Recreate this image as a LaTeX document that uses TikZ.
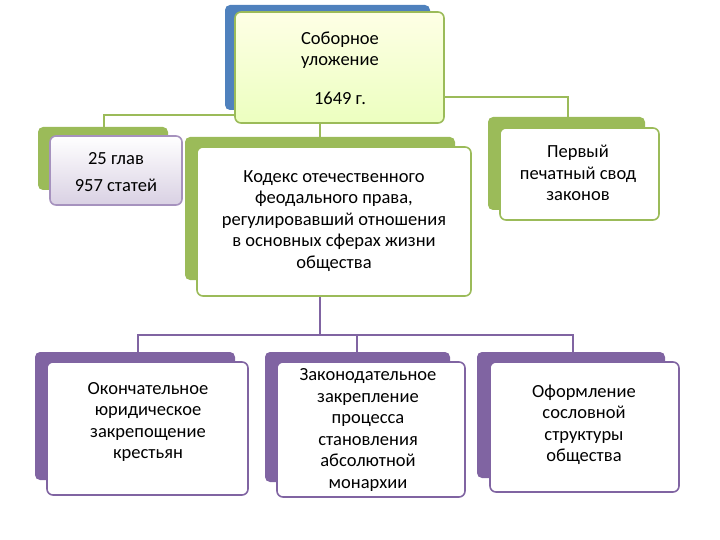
\documentclass[tikz,border=0pt]{standalone}
\usepackage{fontspec}
\setmainfont{Carlito}
\begin{document}
\begin{tikzpicture}[x=1pt,y=-1pt,
 back/.style={rounded corners=5pt,fill=#1},
 front/.style={rounded corners=6pt,draw=#1,line width=1.6pt},
 txt/.style={align=center,font=\fontsize{18.5}{21.5}\selectfont}]
\definecolor{gr}{HTML}{9BBB59}
\definecolor{bl}{HTML}{4F81BD}
\definecolor{pu}{HTML}{8064A2}
\useasboundingbox (0,0) rectangle (720,540);
% connectors
\draw[gr,line width=1.2pt] (104,127) |- (235,115);
\draw[gr,line width=1.2pt] (444,97) -| (568,117);
\draw[gr,line width=1.2pt] (320,123) -- (320,147);
\draw[pu,line width=1.2pt] (320,296) -- (320,335);
\draw[pu,line width=1.2pt] (138,352) |- (573,335) -- (573,352);
\draw[pu,line width=1.2pt] (357,335) -- (357,352);
% top
\fill[back=bl] (225,5) rectangle (430,110);
\filldraw[front=gr,top color=green!4!yellow!10,bottom color=green!30!yellow!25!white] (235,12) rectangle (444,123);
\node[txt] (top) at (340,50) {Соборное\\уложение};
\node[txt] (yr) at (340,98) {1649 г.};
% left small
\fill[back=gr] (38,127) rectangle (168,190);
\filldraw[front=pu!70,top color=white,bottom color=pu!30] (50,136) rectangle (182,205);
\node[txt] (gl) at (116,172) {25 глав\\[5pt]957 статей};
% middle
\fill[back=gr] (185,137) rectangle (455,280);
\filldraw[front=gr,fill=white] (197,147) rectangle (471,296);
\node[txt] (kod) at (334,221) {Кодекс отечественного\\феодального права,\\регулировавший отношения\\в основных сферах жизни\\общества};
% right
\fill[back=gr] (488,117) rectangle (645,210);
\filldraw[front=gr,fill=white] (500,128) rectangle (659,220);
\node[txt] (perv) at (578,173) {Первый\\печатный свод\\законов};
% bottom
\fill[back=pu] (35,352) rectangle (235,480);
\filldraw[front=pu,fill=white] (47,362) rectangle (248,495);
\node[txt] (b1) at (148,422) {Окончательное\\юридическое\\закрепощение\\крестьян};
\fill[back=pu] (265,352) rectangle (450,482);
\filldraw[front=pu,fill=white] (277,362) rectangle (465,497);
\node[txt] (b2) at (368,430) {Законодательное\\закрепление\\процесса\\становления\\абсолютной\\монархии};
\fill[back=pu] (477,352) rectangle (665,478);
\filldraw[front=pu,fill=white] (490,362) rectangle (679,492);
\node[txt] (b3) at (584,425) {Оформление\\сословной\\структуры\\общества};
\end{tikzpicture}
\end{document}
